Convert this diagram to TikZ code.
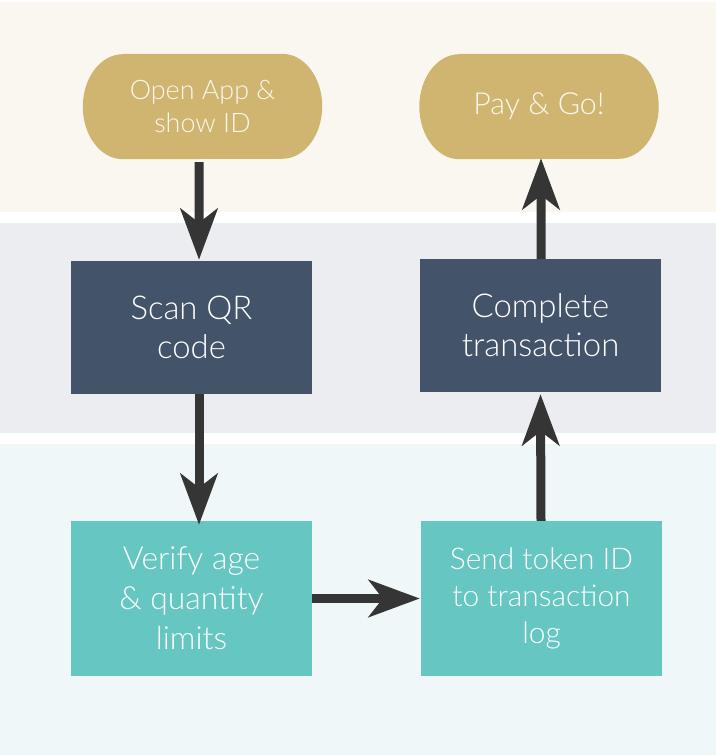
\documentclass[tikz,border=0pt]{standalone}
\usepackage{fontspec}
\setmainfont{Lato}[UprightFont={* Light}]
\usepackage{tikz}
\usetikzlibrary{arrows.meta,positioning,backgrounds}
\usepackage{xcolor}
\definecolor{bandcream}{RGB}{250,247,240}
\definecolor{bandgray}{RGB}{236,237,240}
\definecolor{bandblue}{RGB}{239,247,248}
\definecolor{pillgold}{RGB}{207,181,111}
\definecolor{boxnavy}{RGB}{67,83,105}
\definecolor{boxteal}{RGB}{101,198,194}
\definecolor{arrowgray}{RGB}{53,53,53}
\tikzstyle{flow} = [line width=9bp,-{Stealth[length=51bp,width=37bp,inset=14bp]},color=arrowgray]
\tikzstyle{pill} = [inner sep=0pt,minimum width=239bp,minimum height=105bp,align=center,text=bandcream]
\tikzstyle{stepbox} = [inner sep=0pt,minimum width=241bp,align=center,text=white]

\begin{document}
\begin{tikzpicture}[x=1bp,y=1bp]
    \useasboundingbox (0,0) rectangle (716,755);

    % Start and end
    \node[pill, font=\fontsize{27}{34}\selectfont] (open) at (202.5,648.5) {Open App \&\\show ID};
    \node[pill, font=\fontsize{30.5}{37}\selectfont] (pay) at (539,648.5) {Pay \& Go!};

    % Steps
    \node[stepbox, fill=boxnavy, minimum height=133bp, font=\fontsize{33}{38.5}\selectfont] (scan) at (191.5,427.5) {Scan QR\\code};
    \node[stepbox, fill=boxnavy, minimum height=133bp, font=\fontsize{33}{39}\selectfont] (complete) at (540.5,429.5) {Complete\\transaction};
    \node[stepbox, fill=boxteal, minimum height=155bp, font=\fontsize{32}{40}\selectfont] (verify) at (191.5,156.5) {Verify age\\\& quantity\\limits};
    \node[stepbox, fill=boxteal, minimum height=155bp, font=\fontsize{30}{37}\selectfont] (send) at (541.5,156.5) {Send token ID\\to transaction\\log};

    % Bands and pill shapes
    \begin{scope}[on background layer]
        \fill[bandcream] (0,543) rectangle (716,753);
        \fill[bandgray] (0,322) rectangle (716,532);
        \fill[bandblue] (0,0) rectangle (716,311);
        \foreach \n in {open,pay}
            \fill[pillgold] ([xshift=40bp]\n.north west) -- ([xshift=-40bp]\n.north east)
                arc[start angle=90, end angle=-90, x radius=40bp, y radius=52.5bp]
                -- ([xshift=40bp]\n.south west)
                arc[start angle=270, end angle=90, x radius=40bp, y radius=52.5bp] -- cycle;
    \end{scope}

    % Arrows
    \draw[flow] ([xshift=-3.5bp,yshift=-3bp]open.south) -- ([xshift=7.5bp,yshift=1bp]scan.north);
    \draw[flow] ([xshift=7.5bp]scan.south) -- ([xshift=7.5bp,yshift=-4bp]verify.north);
    \draw[flow] (verify.east) -- ([xshift=-1bp]send.west);
    \draw[flow] ([xshift=-0.5bp]send.north) -- ([yshift=-2bp]complete.south);
    \draw[flow] ([xshift=0.5bp]complete.north) -- ([xshift=2bp,yshift=1bp]pay.south);
\end{tikzpicture}
\end{document}
